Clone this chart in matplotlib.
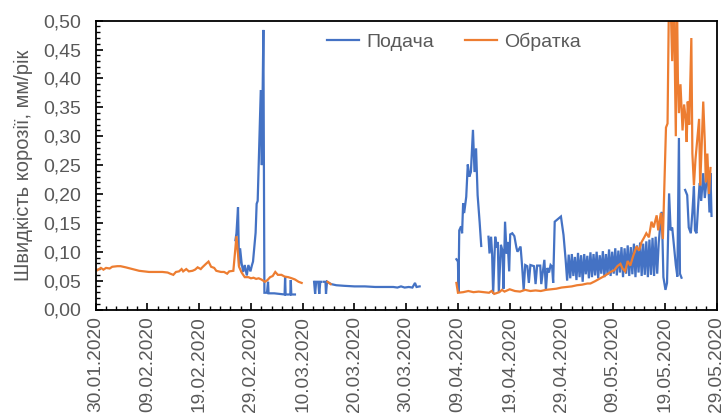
import numpy as np
import pandas as pd
import matplotlib
matplotlib.use("Agg")
import matplotlib.pyplot as plt
import matplotlib.dates as mdates
from matplotlib.ticker import MultipleLocator, FuncFormatter, FixedLocator

plt.rcParams['font.family'] = ['Liberation Sans', 'DejaVu Sans']

start_date = "30.01.2020"
tick_labels = ["30.01.2020", "09.02.2020", "19.02.2020", "29.02.2020", "10.03.2020",
               "20.03.2020", "30.03.2020", "09.04.2020", "19.04.2020", "29.04.2020",
               "09.05.2020", "19.05.2020", "29.05.2020"]
series_names = ["Подача", "Обратка"]
y_label = "Швидкість корозії, мм/рік"

nan = np.nan

# Подача (supply) : day offset from 30.01.2020, value (mm/year)
podacha_days = [
    27.0, 27.2, 27.5, 27.7, 27.9, 28.2, 28.5, 28.8, 29.2, 29.5, 29.9, 30.2, 30.4, 30.9, 31.1, 31.3,
    31.9, 32.1, 32.4, 32.6, 33.1, 33.3, 33.4, 34.5, 35.5, 36.5, 36.6, 36.7, 37.6, 37.7, 37.8, 38.5,
    39.0,
    42.2, 42.4, 42.6, 43.0, 43.2, 43.4, 43.6, 43.8, 44.1, 44.4, 44.5, 44.7, 45.5, 46.5, 48.0, 50.0,
    52.0, 54.0, 56.0, 57.5, 58.3, 59.0, 59.7, 60.5, 61.2, 61.7, 62.0, 62.6, 63.0,
    69.7, 70.0, 70.1, 70.25, 70.6, 70.8, 71.0, 71.2, 71.6, 71.9, 72.2, 72.5, 72.9, 73.2, 73.5, 73.8,
    74.2, 74.5, 75.0,
    75.9, 76.1, 76.4, 76.6, 76.8, 77.2, 77.5, 77.7, 77.9, 78.3, 78.6, 78.8, 79.1, 79.4, 79.6, 79.9,
    80.1, 80.5, 80.9, 81.3, 81.5, 82.1, 82.4, 82.7, 83.0, 83.4, 83.7, 84.0, 84.7, 85.0, 85.3, 85.9,
    86.1, 86.7, 87.0, 87.3, 87.6, 87.9, 88.2, 88.4, 88.7, 89.9, 90.4, 90.8, 91.1, 91.4,
    91.7, 92.0, 92.3, 92.6, 92.9, 93.2, 93.5, 93.8, 94.1, 94.4, 94.7, 95.0, 95.3, 95.6, 95.9, 96.2,
    96.5, 96.8, 97.1, 97.4, 97.7, 98.0, 98.3, 98.6, 98.9, 99.2, 99.5, 99.8, 100.1, 100.4, 100.7,
    101.0, 101.3, 101.6, 101.9, 102.2, 102.5, 102.8, 103.1, 103.4, 103.7, 104.0, 104.3, 104.6,
    104.9, 105.2, 105.5, 105.8, 106.1, 106.4, 106.7, 107.0, 107.3, 107.6, 107.9, 108.2, 108.5,
    108.8, 109.1, 109.4, 109.7, 110.1, 110.4, 110.8, 111.1, 111.4, 112.1, 112.4, 112.7, 112.9,
    113.2, 113.5,
    113.9, 114.3, 114.6, 115.0, 115.3, 115.6, 115.8, 116.1, 116.4, 116.7, 117.0, 117.4, 117.7,
    118.0, 118.3, 118.6, 118.8, 119.0,
]
podacha_vals = [
    0.120, 0.132, 0.177, 0.075, 0.106, 0.080, 0.065, 0.077, 0.059, 0.077, 0.066, 0.077, 0.083, 0.133, 0.183, 0.188,
    0.380, 0.250, 0.484, 0.029, 0.029, 0.048, 0.028, 0.028, 0.027, 0.026, 0.056, 0.026, 0.026, 0.051, 0.026, 0.026,
    nan,
    0.048, 0.027, 0.048, 0.048, 0.027, 0.048, 0.048, nan, 0.048, 0.048, 0.027, 0.048, 0.044, 0.042, 0.041, 0.040,
    0.040, 0.039, 0.039, 0.039, 0.038, 0.040, 0.038, 0.039, 0.038, 0.046, 0.039, 0.040, nan,
    0.087, 0.083, 0.029, 0.137, 0.144, 0.132, 0.184, 0.167, 0.195, 0.251, 0.230, 0.238, 0.311, 0.238, 0.279, 0.198,
    0.150, 0.110, nan,
    0.126, 0.097, 0.126, 0.097, 0.027, 0.126, 0.107, 0.117, 0.030, 0.112, 0.102, 0.036, 0.152, 0.097, 0.117, 0.066,
    0.130, 0.132, 0.127, 0.107, 0.100, 0.109, 0.075, 0.034, 0.077, 0.075, 0.046, 0.077, 0.075, 0.044, 0.076, 0.076,
    0.044, 0.086, 0.034, 0.072, 0.064, 0.077, 0.074, 0.046, 0.152, 0.161, 0.129, 0.087, 0.050, 0.095,
    0.054, 0.096, 0.058, 0.091, 0.051, 0.098, 0.056, 0.094, 0.048, 0.096, 0.061, 0.093, 0.054, 0.099, 0.056, 0.096,
    0.059, 0.100, 0.054, 0.094, 0.062, 0.101, 0.056, 0.096, 0.060, 0.104, 0.058, 0.100, 0.062, 0.106, 0.059,
    0.102, 0.064, 0.108, 0.056, 0.106, 0.062, 0.111, 0.058, 0.108, 0.061, 0.114, 0.056, 0.111,
    0.064, 0.116, 0.058, 0.114, 0.060, 0.118, 0.056, 0.121, 0.060, 0.124, 0.058, 0.126, 0.062,
    0.116, 0.147, 0.169, 0.056, 0.034, 0.046, 0.201, 0.137, 0.142, 0.077, 0.057, 0.297, 0.062,
    0.055, nan,
    0.207, 0.198, 0.142, 0.132, 0.168, 0.213, 0.137, 0.132, 0.178, 0.219, 0.188, 0.236, 0.193,
    0.219, 0.236, 0.168, 0.236, 0.162,
]

# Обратка (return)
obratka_days = [
    0.3, 1.0, 1.5, 2.0, 2.7, 3.2, 4.2, 4.8, 5.8, 7.1, 8.4, 10.3, 12.9, 13.9, 14.4, 15.0, 15.5, 16.1,
    16.6, 16.9, 17.5, 18.0, 18.7, 19.2, 19.7, 20.3, 20.6, 21.3, 21.8, 22.3, 22.9, 23.3, 24.2, 24.8,
    25.4, 25.8, 26.6, 27.0, 27.2, 27.5, 27.7, 28.2, 28.8, 29.5, 30.0, 30.5, 31.0, 31.5, 32.0, 32.7,
    33.2, 33.7, 34.2, 34.7, 35.2, 35.9, 36.5, 37.2, 37.9, 38.5, 39.2, 39.8, 40.5,
    44.8, 45.4, 46.0,
    69.7, 70.0, 71.0, 72.0, 73.0, 74.0, 75.0, 76.0, 76.5, 77.0, 78.0, 78.5, 79.0, 80.0, 81.0, 82.0,
    83.0, 84.0, 85.0, 86.0, 87.0, 88.0, 89.0, 90.0, 91.0, 92.0, 93.0, 94.0, 95.0, 95.6, 96.5, 97.5,
    98.5, 99.5, 100.2, 100.8, 101.4, 101.8, 102.3, 102.8, 103.3, 103.8, 104.5, 105.0, 105.5, 106.0,
    106.4, 106.9, 107.4, 107.8, 108.4, 108.7, 109.2, 109.6, 110.2, 110.5, 110.8, 111.1, 111.4, 111.7,
    112.1, 112.3, 112.5, 112.7, 113.0, 113.4, 113.7, 114.0, 114.2, 114.4, 114.7, 115.1, 115.3, 115.6,
    115.9, 116.3, 116.6, 116.8, 117.0, 117.4, 117.7, 117.9, 118.2, 118.5, 118.8,
]
obratka_vals = [
    0.068, 0.072, 0.069, 0.072, 0.071, 0.074, 0.075, 0.075, 0.073, 0.070, 0.067, 0.065, 0.065, 0.064, 0.062, 0.060, 0.065, 0.066,
    0.070, 0.066, 0.070, 0.066, 0.067, 0.069, 0.073, 0.070, 0.073, 0.079, 0.083, 0.074, 0.072, 0.067, 0.065, 0.065,
    0.062, 0.066, 0.067, 0.106, 0.127, 0.096, 0.074, 0.064, 0.056, 0.056, 0.054, 0.055, 0.053, 0.054, 0.052, 0.048,
    0.051, 0.056, 0.058, 0.065, 0.060, 0.060, 0.057, 0.056, 0.054, 0.052, 0.048, 0.046, nan,
    0.048, 0.044, nan,
    0.046, 0.029, 0.030, 0.032, 0.030, 0.031, 0.030, 0.029, 0.032, 0.027, 0.030, 0.034, 0.031, 0.035, 0.032, 0.031,
    0.034, 0.032, 0.033, 0.032, 0.034, 0.035, 0.036, 0.038, 0.039, 0.040, 0.042, 0.043, 0.045, 0.045, 0.049, 0.054,
    0.059, 0.065, 0.068, 0.075, 0.079, 0.071, 0.066, 0.084, 0.076, 0.091, 0.109, 0.102, 0.117, 0.125,
    0.132, 0.125, 0.152, 0.142, 0.163, 0.137, 0.167, 0.122, 0.315, 0.322, 0.560, 0.530, 0.430, 0.560,
    0.300, 0.560, 0.400, 0.340, 0.390, 0.310, 0.355, 0.330, 0.290, 0.360, 0.320, 0.470, 0.270, 0.215,
    0.260, 0.300, 0.330, 0.215, 0.260, 0.360, 0.290, 0.220, 0.270, 0.200, 0.245,
]

base = pd.to_datetime(start_date, format="%d.%m.%Y")
p_x = base + pd.to_timedelta(podacha_days, unit="D")
o_x = base + pd.to_timedelta(obratka_days, unit="D")
ticks = pd.to_datetime(tick_labels, format="%d.%m.%Y")

W, H = 727, 418
fig = plt.figure(figsize=(W / 100, H / 100), dpi=100)
ax = fig.add_axes([95.7 / W, 1 - 309.5 / H, (716.7 - 95.7) / W, (309.5 - 20.7) / H])

blue = "#4472C4"
orange = "#ED7D31"
ax.plot(p_x, podacha_vals, color=blue, lw=1.6, label=series_names[0], solid_joinstyle="miter")
ax.plot(o_x, obratka_vals, color=orange, lw=1.6, label=series_names[1], solid_joinstyle="miter")

ax.set_xlim(ticks[0], ticks[-1])
ax.set_ylim(0, 0.5)

ax.xaxis.set_major_locator(FixedLocator(mdates.date2num(ticks)))
ax.xaxis.set_major_formatter(FuncFormatter(lambda v, p: mdates.num2date(v).strftime("%d.%m.%Y")))
d0 = mdates.date2num(ticks[0])
ax.xaxis.set_minor_locator(FixedLocator(np.arange(d0, mdates.date2num(ticks[-1]) + 0.5, 2)))
ax.yaxis.set_major_locator(MultipleLocator(0.05))
ax.yaxis.set_minor_locator(MultipleLocator(0.01))
ax.yaxis.set_major_formatter(FuncFormatter(lambda v, p: f"{v:.2f}".replace(".", ",")))

label_color = "#595959"
for lab in ax.get_xticklabels():
    lab.set_rotation(90)
ax.tick_params(axis="both", which="major", direction="in", length=5, width=1.2, colors="black",
               labelcolor=label_color)
ax.tick_params(axis="both", which="minor", direction="in", length=3, width=1.0, colors="black")
ax.tick_params(axis="x", which="major", pad=5, labelsize=13.8)
ax.tick_params(axis="y", which="major", pad=10.5, labelsize=14)

for s in ax.spines.values():
    s.set_color("black")
    s.set_linewidth(1.3)

ax.set_ylabel(y_label, color=label_color, fontsize=14.5, labelpad=7)

leg = ax.legend(loc="center", bbox_to_anchor=((454 - 95.7) / 621, (309.5 - 42) / 288.8), ncol=2,
                frameon=False, fontsize=14, handlelength=1.65, columnspacing=1.6, handletextpad=0.35)
for t in leg.get_texts():
    t.set_color(label_color)

fig.savefig("out.png", dpi=100)
